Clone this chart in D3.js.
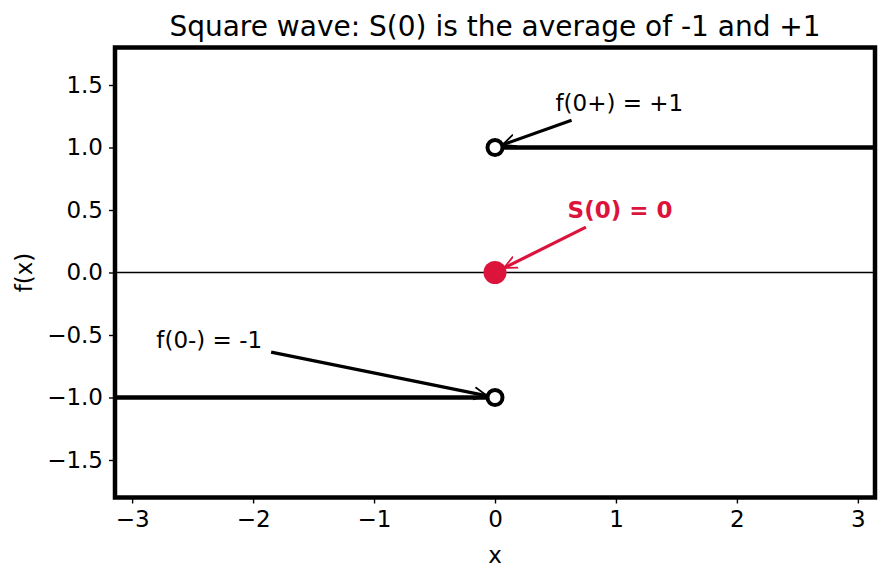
<!DOCTYPE html>
<html>
<head>
<meta charset="utf-8">
<script src="https://cdn.jsdelivr.net/npm/d3@7"></script>
<style>
  body { margin: 0; background: #fff; }
  svg { font-family: "DejaVu Sans", sans-serif; }
</style>
</head>
<body>
<div id="chart"></div>
<script>
const width = 888;
const height = 581;
const chartTitle = "Square wave: S(0) is the average of -1 and +1";

// data
const xLimits = [-Math.PI, Math.PI];
const yLimits = [-1.8, 1.8];
const xTicks = [-3, -2, -1, 0, 1, 2, 3];
const yTicks = [-1.5, -1.0, -0.5, 0.0, 0.5, 1.0, 1.5];
const leftPiece = [[-Math.PI, -1], [0, -1]];
const rightPiece = [[0, 1], [Math.PI, 1]];
const openPoints = [[0, 1], [0, -1]];
const averagePoint = [0, 0];
const noteLabels = ["f(0+) = +1", "S(0) = 0", "f(0-) = -1"];
const noteTargets = [[0, 1], [0, 0], [0, -1]];
const noteTextAt = [[0.5, 1.29], [0.6, 0.435], [-2.8, -0.6]];
const noteColors = ["black", "crimson", "black"];

const labelSize = 23;
const titleSize = 28;
const margin = {top: 47.5, right: 13, bottom: 83.5, left: 115};

const svg = d3.select("#chart")
    .append("svg")
        .attr("width", width)
        .attr("height", height)

const x = d3.scaleLinear().domain(xLimits).range([margin.left, width - margin.right]);
const y = d3.scaleLinear().domain(yLimits).range([height - margin.bottom, margin.top]);

// arrow heads
const defs = svg.append("defs")
noteColors.forEach((c, i) => {
    defs.append("marker")
        .attr("id", "head" + i)
        .attr("viewBox", "0 -5 10 10")
        .attr("refX", 9)
        .attr("refY", 0)
        .attr("markerWidth", 4.6)
        .attr("markerHeight", 4.6)
        .attr("markerUnits", "strokeWidth")
        .attr("orient", "auto")
      .append("path")
        .attr("d", "M0,-4.2L9,0L0,4.2")
        .attr("fill", "none")
        .attr("stroke", c)
        .attr("stroke-width", 1.2)
})

// zero line
svg.append("line")
    .attr("x1", x(xLimits[0])).attr("x2", x(xLimits[1]))
    .attr("y1", y(0)).attr("y2", y(0))
    .attr("stroke", "black")
    .attr("stroke-width", 1.4)

// square wave pieces
const line = d3.line().x(d => x(d[0])).y(d => y(d[1]))
svg.selectAll(".piece")
    .data([leftPiece, rightPiece])
    .enter()
    .append("path")
    .attr("class", "piece")
    .attr("d", line)
    .attr("fill", "none")
    .attr("stroke", "black")
    .attr("stroke-width", 4.5)

// open circles at the jump
svg.selectAll(".open")
    .data(openPoints)
    .enter()
    .append("circle")
    .attr("class", "open")
    .attr("cx", d => x(d[0]))
    .attr("cy", d => y(d[1]))
    .attr("r", 7.5)
    .attr("fill", "white")
    .attr("stroke", "black")
    .attr("stroke-width", 4)

// the average value
svg.append("circle")
    .attr("cx", x(averagePoint[0]))
    .attr("cy", y(averagePoint[1]))
    .attr("r", 11.5)
    .attr("fill", "crimson")

// annotations
const notes = svg.append("g").attr("id", "notes")
noteLabels.forEach((label, i) => {
    const t = notes.append("text")
        .attr("x", x(noteTextAt[i][0]))
        .attr("y", y(noteTextAt[i][1]))
        .attr("font-size", labelSize)
        .attr("font-weight", i == 1 ? "bold" : "normal")
        .attr("fill", noteColors[i])
        .text(label)
    const b = t.node().getBBox()
    const pad = 4
    const cx = b.x + b.width/2, cy = b.y + b.height/2
    const tx = x(noteTargets[i][0]), ty = y(noteTargets[i][1])
    const dx = tx - cx, dy = ty - cy
    // leave the text box
    const hw = b.width/2 + pad + 5, hh = b.height/2 + pad
    const s = Math.min(Math.abs(hw/dx), Math.abs(hh/dy))
    const sx = cx + dx*s, sy = cy + dy*s
    // stop short of the marker
    const len = Math.hypot(tx - sx, ty - sy)
    const shrink = i == 1 ? 10 : 8
    const ex = tx - (tx - sx)/len*shrink, ey = ty - (ty - sy)/len*shrink
    notes.append("line")
        .attr("x1", sx).attr("y1", sy)
        .attr("x2", ex).attr("y2", ey)
        .attr("stroke", noteColors[i])
        .attr("stroke-width", 3.2)
        .attr("marker-end", "url(#head" + i + ")")
})

// axes
const xAxis = svg.append("g")
    .attr("transform", "translate(0," + (height - margin.bottom) + ")")
    .call(d3.axisBottom(x).tickValues(xTicks).tickSize(6).tickPadding(7)
        .tickFormat(d => d3.format("")(d).replace("-", "\u2212")))
const yAxis = svg.append("g")
    .attr("transform", "translate(" + margin.left + ",0)")
    .call(d3.axisLeft(y).tickValues(yTicks).tickSize(6).tickPadding(6)
        .tickFormat(d => d3.format(".1f")(d).replace("-", "\u2212")))
for (const g of [xAxis, yAxis]) {
    g.select(".domain").remove()
    g.selectAll(".tick line").attr("stroke", "black").attr("stroke-width", 1.4)
    g.selectAll(".tick text")
        .attr("font-family", "DejaVu Sans")
        .attr("font-size", labelSize)
        .attr("fill", "black")
}

// frame
svg.append("rect")
    .attr("x", margin.left)
    .attr("y", margin.top)
    .attr("width", width - margin.left - margin.right)
    .attr("height", height - margin.top - margin.bottom)
    .attr("fill", "none")
    .attr("stroke", "black")
    .attr("stroke-width", 4.5)

// labels
svg.append("text")
    .attr("x", (margin.left + width - margin.right)/2)
    .attr("y", 36)
    .attr("text-anchor", "middle")
    .attr("font-size", titleSize)
    .text(chartTitle)
svg.append("text")
    .attr("x", (margin.left + width - margin.right)/2)
    .attr("y", 563)
    .attr("text-anchor", "middle")
    .attr("font-size", labelSize)
    .text("x")
svg.append("text")
    .attr("transform", "translate(32," + y(0) + ") rotate(-90)")
    .attr("text-anchor", "middle")
    .attr("font-size", labelSize)
    .text("f(x)")
</script>
</body>
</html>
